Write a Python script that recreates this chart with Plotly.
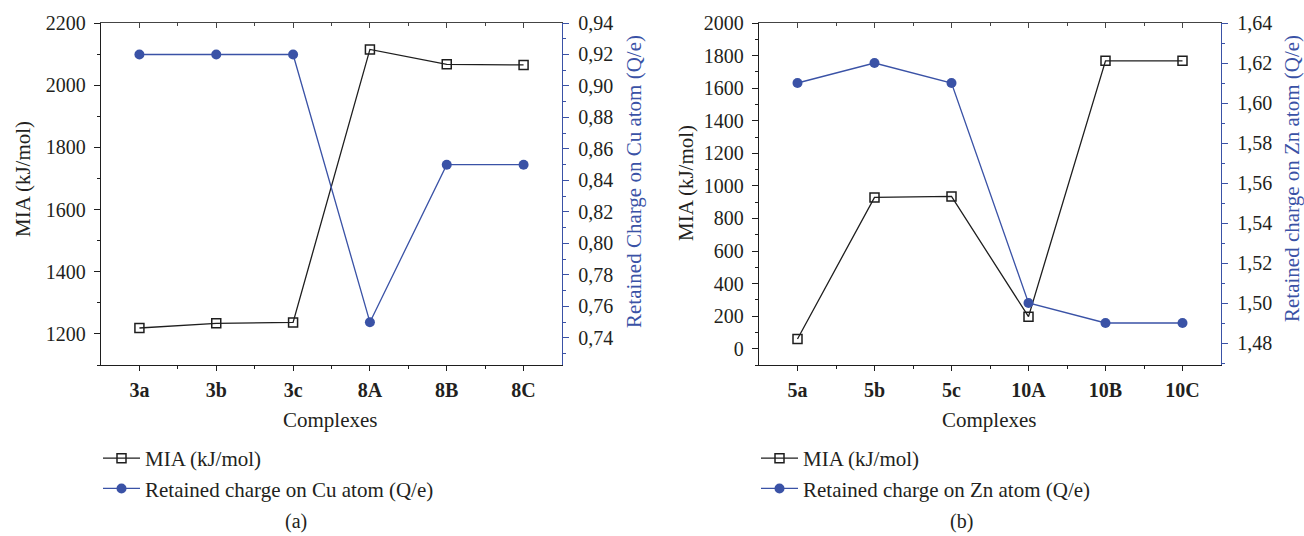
import plotly.graph_objects as go

# ---------------- data ----------------
cats_a = ["3a", "3b", "3c", "8A", "8B", "8C"]
mia_a = [1219, 1234, 1237, 2115, 2067, 2065]
charge_cu = [0.92, 0.92, 0.92, 0.75, 0.85, 0.85]

cats_b = ["5a", "5b", "5c", "10A", "10B", "10C"]
mia_b = [60, 929, 935, 197, 1768, 1768]
charge_zn = [1.61, 1.62, 1.61, 1.50, 1.49, 1.49]

BLUE = "#3a52a6"
BLACK = "#1e1e1e"
TXT = "#231f20"
FONT = "Liberation Serif"

W, H = 1304, 536
def px_x(p): return p / W
def px_y(p): return 1 - p / H

xa_dom = [px_x(101), px_x(562)]
xb_dom = [px_x(759), px_x(1221)]
y_dom = [px_y(365), px_y(23)]

fig = go.Figure()

idx_a = list(range(len(cats_a)))
idx_b = list(range(len(cats_b)))

sq = dict(symbol="square-open", size=9, color=BLACK, line=dict(width=1.5, color=BLACK))
dot = dict(symbol="circle", size=10, color=BLUE)

# panel (a)
fig.add_trace(go.Scatter(x=idx_a, y=mia_a, mode="lines+markers", name="MIA (kJ/mol)",
                         line=dict(color=BLACK, width=1.3), marker=sq,
                         xaxis="x", yaxis="y", legend="legend"))
fig.add_trace(go.Scatter(x=idx_a, y=charge_cu, mode="lines+markers", name="Retained charge on Cu atom (Q/e)",
                         line=dict(color=BLUE, width=1.3), marker=dot,
                         xaxis="x", yaxis="y2", legend="legend"))
# panel (b)
fig.add_trace(go.Scatter(x=idx_b, y=mia_b, mode="lines+markers", name="MIA (kJ/mol)",
                         line=dict(color=BLACK, width=1.3), marker=sq,
                         xaxis="x2", yaxis="y3", legend="legend2"))
fig.add_trace(go.Scatter(x=idx_b, y=charge_zn, mode="lines+markers", name="Retained charge on Zn atom (Q/e)",
                         line=dict(color=BLUE, width=1.3), marker=dot,
                         xaxis="x2", yaxis="y4", legend="legend2"))
# invisible traces for top mirror axes
fig.add_trace(go.Scatter(x=[None], y=[None], xaxis="x3", yaxis="y", showlegend=False, hoverinfo="skip"))
fig.add_trace(go.Scatter(x=[None], y=[None], xaxis="x4", yaxis="y3", showlegend=False, hoverinfo="skip"))

tickfont = dict(family=FONT, size=20, color=TXT)
xtickfont = dict(family=FONT, size=20, color=TXT, weight="bold")
xr = [-0.5, 5.5]
minor_x = dict(tickmode="array", tickvals=[0.5, 1.5, 2.5, 3.5, 4.5], ticklen=3, tickcolor=BLACK, ticks="outside")
minor_x_in = dict(tickmode="array", tickvals=[0.5, 1.5, 2.5, 3.5, 4.5], ticklen=3, tickcolor="#444", ticks="inside")

def xbottom(dom, anchor, cats):
    return dict(domain=dom, anchor=anchor, range=xr, tickmode="array", tickvals=list(range(len(cats))),
                ticktext=cats, ticks="outside", ticklen=5, tickwidth=1, tickcolor=BLACK,
                showline=True, linecolor=BLACK, linewidth=1.3, showgrid=False, zeroline=False,
                tickfont=xtickfont, minor=minor_x, ticklabelstandoff=2, automargin=False)

def xtop(over, anchor):
    return dict(overlaying=over, anchor=anchor, side="top", range=xr, tickmode="array",
                tickvals=[0, 1, 2, 3, 4, 5], ticks="inside", ticklen=5, tickcolor="#444",
                showticklabels=False, showline=True, linecolor="#444", linewidth=1.3,
                showgrid=False, zeroline=False, minor=minor_x_in, automargin=False)

def yleft(dom, anchor, rng, dt):
    return dict(domain=dom, anchor=anchor, range=rng, dtick=dt, tick0=0, ticks="outside", ticklen=6,
                tickcolor=BLACK, showline=True, linecolor=BLACK, linewidth=1.3, showgrid=False,
                zeroline=False, tickfont=tickfont, automargin=False, ticklabelstandoff=4,
                minor=dict(dtick=dt / 2, tick0=0, ticks="outside", ticklen=3, tickcolor=BLACK))

def yright(over, anchor, rng):
    return dict(overlaying=over, anchor=anchor, side="right", range=rng, dtick=0.02, tick0=0,
                tickformat=".2f", ticks="outside", ticklen=6, tickcolor=BLUE, showline=True,
                linecolor=BLUE, linewidth=1.3, showgrid=False, zeroline=False, tickfont=tickfont,
                automargin=False, ticklabelstandoff=5,
                minor=dict(dtick=0.01, tick0=0, ticks="outside", ticklen=3, tickcolor=BLUE))

legfont = dict(family=FONT, size=21, color=TXT)
fig.update_layout(
    template="none",
    width=W, height=H, margin=dict(l=0, r=0, t=0, b=0, pad=0),
    paper_bgcolor="white", plot_bgcolor="white",
    separators=",.",
    font=dict(family=FONT, size=20, color=TXT),
    xaxis=xbottom(xa_dom, "y", cats_a),
    xaxis2=xbottom(xb_dom, "y3", cats_b),
    xaxis3=xtop("x", "y"),
    xaxis4=xtop("x2", "y3"),
    yaxis=yleft(y_dom, "x", [1100, 2200], 200),
    yaxis2=yright("y", "x", [0.7228, 0.94]),
    yaxis3=yleft(y_dom, "x2", [-100, 2000], 200),
    yaxis4=yright("y3", "x2", [1.469, 1.64]),
    legend=dict(x=px_x(98), y=px_y(438), xanchor="left", yanchor="top", bgcolor="rgba(0,0,0,0)",
                font=legfont, tracegroupgap=0, itemwidth=37),
    legend2=dict(x=px_x(756), y=px_y(438), xanchor="left", yanchor="top", bgcolor="rgba(0,0,0,0)",
                 font=legfont, tracegroupgap=0, itemwidth=37),
    showlegend=True,
)

ann = []
def a(text, x, y, rot=0, color=TXT, size=21):
    ann.append(dict(text=text, x=px_x(x), y=px_y(y), xref="paper", yref="paper", showarrow=False,
                    textangle=rot, font=dict(family=FONT, size=size, color=color),
                    xanchor="center", yanchor="middle"))
a("MIA (kJ/mol)", 23, 179, -90)
a("Retained Charge on Cu atom (Q/e)", 634, 182, -90, BLUE)
a("Complexes", 331, 420)
a("(a)", 296, 521, size=20)
a("MIA (kJ/mol)", 686, 183, -90)
a("Retained charge on Zn atom (Q/e)", 1292, 179, -90, BLUE)
a("Complexes", 990, 420)
a("(b)", 961, 521, size=20)
fig.update_layout(annotations=ann)

fig.write_html("out.html", config={"displayModeBar": False},
               post_script="document.body.style.margin='0';document.body.style.overflow='hidden';")
